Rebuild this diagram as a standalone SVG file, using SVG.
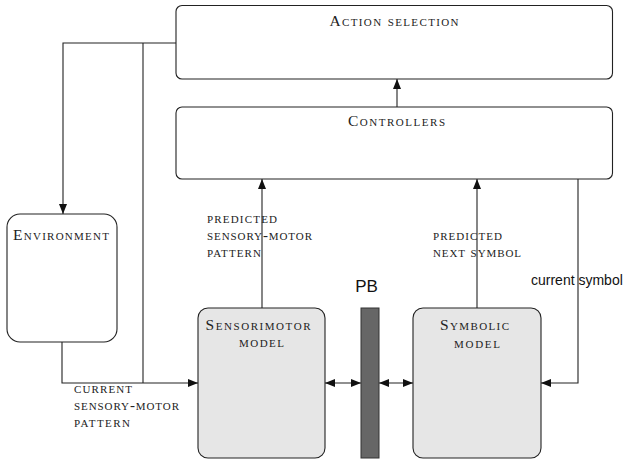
<svg xmlns="http://www.w3.org/2000/svg" width="623" height="461" viewBox="0 0 623 461">
  <style>
    .box { fill: #ffffff; stroke: #222222; stroke-width: 1.1; }
    .model { fill: #e6e6e6; stroke: #222222; stroke-width: 1.1; }
    .pb { fill: #666666; stroke: #333333; stroke-width: 1; }
    .wire { fill: none; stroke: #222222; stroke-width: 1.1; }
    .title { font-family: "Liberation Serif", "Times New Roman", serif; font-size: 15.5px; font-variant: small-caps; fill: #222222; text-anchor: middle; }
    .lbl { font-family: "Liberation Serif", "Times New Roman", serif; font-size: 15px; font-variant: small-caps; fill: #222222; }
    .sans { font-family: "Liberation Sans", Arial, sans-serif; fill: #111111; }
  </style>
  <defs>
    <marker id="head" viewBox="0 0 10 8" refX="10" refY="4" markerWidth="10" markerHeight="8" markerUnits="userSpaceOnUse" orient="auto-start-reverse">
      <path d="M0,0 L10,4 L0,8 z" fill="#111111"/>
    </marker>
  </defs>

  <!-- connectors -->
  <g id="connectors">
    <!-- action selection -> environment, with branch down to the sensorimotor input -->
    <polyline class="wire" points="176,43 63,43 63,214" marker-end="url(#head)"/>
    <line class="wire" x1="143" y1="43" x2="143" y2="383"/>
    <!-- environment -> sensorimotor model (current sensory-motor pattern) -->
    <polyline class="wire" points="62,342 62,383 198,383" marker-end="url(#head)"/>
    <!-- controllers -> action selection -->
    <line class="wire" x1="397" y1="107" x2="397" y2="79" marker-end="url(#head)"/>
    <!-- models -> controllers -->
    <line class="wire" x1="262" y1="308" x2="262" y2="179" marker-end="url(#head)"/>
    <line class="wire" x1="477" y1="308" x2="477" y2="179" marker-end="url(#head)"/>
    <!-- current symbol feedback -->
    <polyline class="wire" points="578,179 578,383 541,383" marker-end="url(#head)"/>
    <!-- links through the PB layer -->
    <line class="wire" x1="325" y1="383" x2="361" y2="383" marker-start="url(#head)" marker-end="url(#head)"/>
    <line class="wire" x1="379" y1="383" x2="413" y2="383" marker-start="url(#head)" marker-end="url(#head)"/>
  </g>

  <!-- connector labels -->
  <g id="labels">
    <text class="lbl" x="207" y="223" textLength="70" lengthAdjust="spacing">predicted</text>
    <text class="lbl" x="207" y="240" textLength="105" lengthAdjust="spacing">sensory-motor</text>
    <text class="lbl" x="207" y="257" textLength="54" lengthAdjust="spacing">pattern</text>

    <text class="lbl" x="74" y="393" textLength="58" lengthAdjust="spacing">current</text>
    <text class="lbl" x="74" y="410" textLength="105" lengthAdjust="spacing">sensory-motor</text>
    <text class="lbl" x="74" y="427" textLength="56" lengthAdjust="spacing">pattern</text>

    <text class="lbl" x="433" y="240" textLength="69" lengthAdjust="spacing">predicted</text>
    <text class="lbl" x="433" y="257" textLength="88" lengthAdjust="spacing">next symbol</text>

    <text class="sans" x="531" y="285" font-size="14">current symbol</text>
    <text class="sans" x="366.5" y="292" font-size="17" text-anchor="middle">PB</text>
  </g>

  <g id="action-selection">
    <rect class="box" x="176" y="5.5" width="436.5" height="73.5" rx="6"/>
    <text class="title" x="394" y="25.5" textLength="129" lengthAdjust="spacing">Action selection</text>
  </g>

  <g id="controllers">
    <rect class="box" x="176" y="107" width="436.5" height="72" rx="6"/>
    <text class="title" x="396.5" y="126" textLength="97" lengthAdjust="spacing">Controllers</text>
  </g>

  <g id="environment">
    <rect class="box" x="7" y="214" width="110" height="128" rx="13"/>
    <text class="title" x="61" y="239.5" textLength="96" lengthAdjust="spacing">Environment</text>
  </g>

  <g id="sensorimotor-model">
    <rect class="model" x="198" y="308" width="127" height="150" rx="10"/>
    <text class="title" x="258" y="329.5" textLength="105" lengthAdjust="spacing">Sensorimotor</text>
    <text class="title" x="261.5" y="347" textLength="45" lengthAdjust="spacing">model</text>
  </g>

  <g id="pb">
    <rect class="pb" x="361" y="308" width="18" height="150"/>
  </g>

  <g id="symbolic-model">
    <rect class="model" x="413" y="308" width="128" height="150" rx="10"/>
    <text class="title" x="474.5" y="330" textLength="69" lengthAdjust="spacing">Symbolic</text>
    <text class="title" x="477" y="347.5" textLength="46" lengthAdjust="spacing">model</text>
  </g>
</svg>
